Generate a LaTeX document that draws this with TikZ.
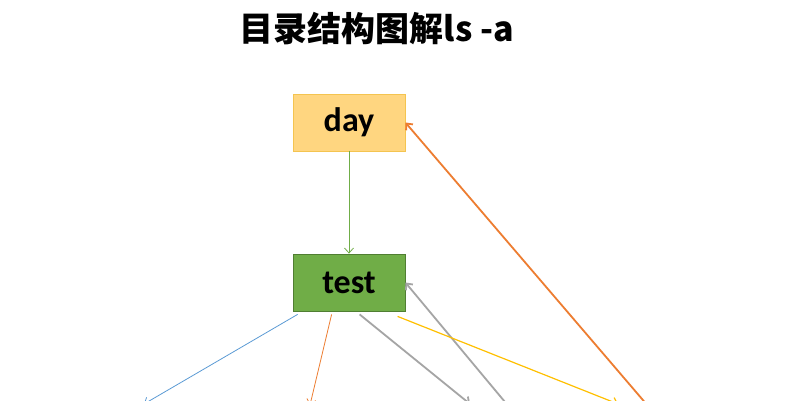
\documentclass[tikz,border=0pt]{standalone}
\usepackage{fontspec}
\setmainfont{Carlito}
\newfontfamily\cjk{Noto Sans CJK SC}
\usetikzlibrary{arrows.meta,calc}
\definecolor{dayfill}{RGB}{255,214,128}
\definecolor{dayline}{RGB}{244,196,80}
\definecolor{testfill}{RGB}{112,173,71}
\definecolor{testline}{RGB}{80,126,50}
\definecolor{corange}{RGB}{237,125,49}
\definecolor{cgray}{RGB}{165,165,165}
\definecolor{cblue}{RGB}{91,155,213}
\definecolor{cyellow}{RGB}{255,192,0}
\tikzset{
  box/.style={draw, line width=0.8pt, minimum width=112pt, minimum height=57pt,
    inner sep=0pt, font=\fontsize{34}{36}\selectfont\bfseries},
  tip/.style={-{Straight Barb[length=5pt,width=9pt]}},
  thin line/.style={tip, line width=0.8pt},
  thick line/.style={tip, line width=1.8pt},
}
\begin{document}
\begin{tikzpicture}[x=1pt,y=-1pt]
\useasboundingbox[fill=white] (0,0) rectangle (794,400);
\node[font=\cjk\fontsize{34}{36}\selectfont\bfseries] (title) at (377,29) {目录结构图解ls -a};
\node[box, fill=dayfill, draw=dayline] (day) at (349,122.5) {day};
\node[box, fill=testfill, draw=testline] (test) at (349,282.5) {test};
% off-picture ends
\coordinate (b1) at (144,404);
\coordinate (b2) at (310,405);
\coordinate (b3) at (470,404);
\coordinate (b4) at (618,404);
\coordinate (s1) at (660,420);
\coordinate (s2) at (520,420);
% start points below test
\coordinate (t1) at ($(test.south west)+(5,3)$);
\coordinate (t2) at ($(test.south west)+(39,3)$);
\coordinate (t3) at ($(test.south west)+(67,3)$);
\coordinate (t4) at ($(test.south west)+(105,5)$);
\draw[thin line, draw=testfill] (day) -- (test);
\draw[thick line, draw=corange] (s1) -- (day.east);
\draw[thick line, draw=cgray] (s2) -- (test.east);
\draw[thin line, draw=cblue] (t1) -- (b1);
\draw[thin line, draw=corange] (t2) -- (b2);
\draw[thick line, draw=cgray] (t3) -- (b3);
\draw[thin line, line width=1.2pt, draw=cyellow] (t4) -- (b4);
\end{tikzpicture}
\end{document}
